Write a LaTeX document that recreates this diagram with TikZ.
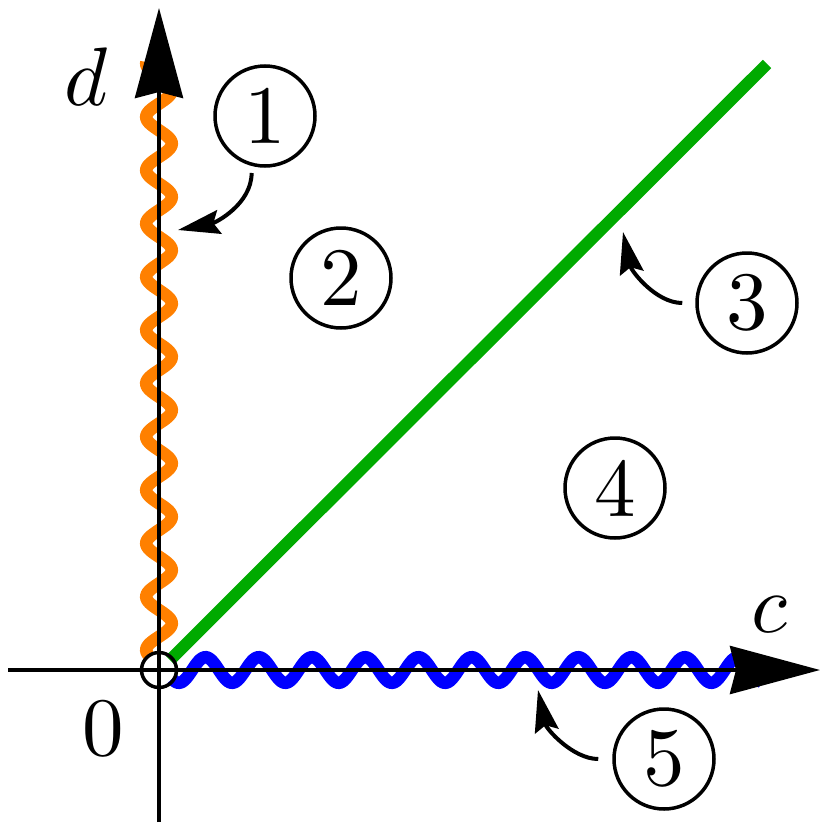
\documentclass[tikz,border=0pt]{standalone}
\usetikzlibrary{arrows.meta}
\definecolor{grn}{RGB}{0,170,0}
\definecolor{orng}{RGB}{255,128,0}
\definecolor{blu}{RGB}{0,0,255}
\newcommand{\bigtxt}[1]{\scalebox{8.3}{#1}}
\begin{document}
\begin{tikzpicture}[x=1pt,y=1pt,
  numcirc/.style={circle,draw,line width=3.5pt,minimum size=100pt,inner sep=0pt},
  pointer/.style={line width=4pt,-{Stealth[length=42pt,width=24pt,inset=6pt]}},
  axisline/.style={line width=4pt,-{Stealth[length=90pt,width=48pt,inset=6pt]}},
  lbl/.style={inner sep=0pt,anchor=base},
  wavy/.style={line width=12.5pt}]
\useasboundingbox (0,0) rectangle (830,-830);
% green diagonal
\coordinate (g0) at (170,-660);
\coordinate (g1) at (767,-64);
\draw[grn,line width=12pt] (g0) -- (g1);
% orange wave on d axis
\draw[orng,wavy] plot[domain=62:655,samples=400,smooth] ({159-12.8*cos(6.7542*(\x-117))},{-\x});
% blue wave on c axis
\draw[blu,wavy] plot[domain=172:762,samples=400,smooth] ({\x},{-670+12.8*cos(6.7606*(\x-205.5))});
% axes
\coordinate (xs) at (8,-670);
\coordinate (xe) at (820,-670);
\coordinate (ys) at (159,-822);
\coordinate (ye) at (159,-8);
\draw[axisline] (xs) -- (xe);
\draw[axisline] (ys) -- (ye);
% origin circle
\node[circle,draw,line width=3.5pt,minimum size=35pt,inner sep=0pt] (o) at (159,-670) {};
% labels
\node[lbl] (ld) at (86,-105) {\bigtxt{$d$}};
\node[lbl] (lc) at (769,-632) {\bigtxt{$c$}};
\node[lbl] (l0) at (103,-755) {\bigtxt{0}};
% numbered circles
\node[numcirc] (n1) at (265,-116) {\bigtxt{1}};
\node[numcirc] (n2) at (341,-278) {\bigtxt{2}};
\node[numcirc] (n3) at (747,-303) {\bigtxt{3}};
\node[numcirc] (n4) at (615,-488) {\bigtxt{4}};
\node[numcirc] (n5) at (664,-759) {\bigtxt{5}};
% pointer tips
\coordinate (t1) at (178,-230);
\coordinate (t3) at (623,-232);
\coordinate (t5) at (538,-690);
\draw[pointer,shorten <=7pt] (n1.-105) to[out=-90,in=11] (t1);
\draw[pointer,shorten <=13pt] (n3.west) to[out=180,in=-78] (t3);
\draw[pointer,shorten <=14pt] (n5.west) to[out=180,in=-78] (t5);
\end{tikzpicture}
\end{document}
